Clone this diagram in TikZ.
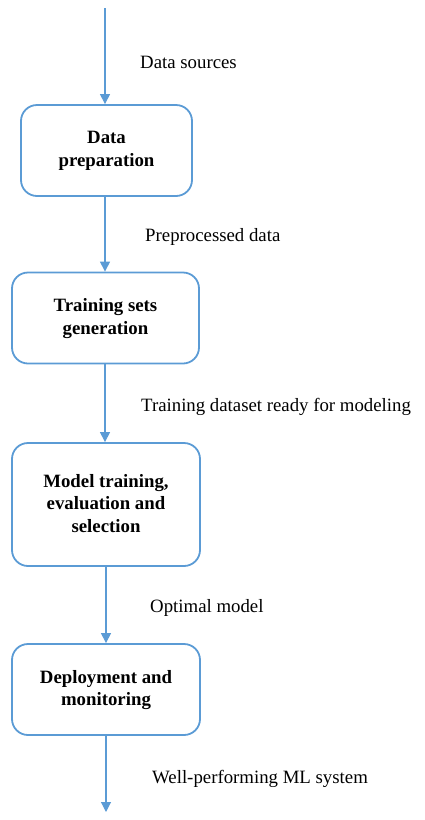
\documentclass[tikz,border=0pt]{standalone}
\usepackage{fontspec}
\setmainfont{Liberation Serif}
\usetikzlibrary{arrows.meta}
\definecolor{flowblue}{HTML}{5B9BD5}
\tikzset{
  stagebox/.style={draw=flowblue, line width=1.8pt, rounded corners=16pt, align=center,
    font=\fontsize{18.8}{22.5}\selectfont\bfseries, inner sep=0pt, text depth=3pt},
  flowarrow/.style={draw=flowblue, line width=1.1pt, -{Triangle[width=10pt,length=10pt]}},
  flowlabel/.style={anchor=base west, inner sep=0pt, font=\fontsize{18.8}{22.5}\selectfont}
}
\begin{document}
\begin{tikzpicture}[x=1pt,y=-1pt]
\useasboundingbox (0,0) rectangle (424,820);
\node[stagebox, minimum width=171pt, minimum height=91pt] (b1) at (106.5,150.5) {Data\\preparation};
\node[stagebox, minimum width=187pt, minimum height=91pt] (b2) at (105.5,318) {Training sets\\generation};
\node[stagebox, minimum width=188pt, minimum height=123pt] (b3) at (106,504.5) {Model training,\\evaluation and\\selection};
\node[stagebox, minimum width=188pt, minimum height=91pt] (b4) at (106,689.5) {Deployment and\\monitoring};
\coordinate (src) at (105,8);
\coordinate (out) at (106,812);
\draw[flowarrow] (src) -- (b1.north -| src);
\draw[flowarrow] (b1.south -| src) -- (b2.north -| src);
\draw[flowarrow] (b2.south -| src) -- (b3.north -| src);
\draw[flowarrow] (b3.south -| out) -- (b4.north -| out);
\draw[flowarrow] (b4.south -| out) -- (out);
\node[flowlabel] (l1) at (140,68) {Data sources};
\node[flowlabel] (l2) at (145,241.5) {Preprocessed data};
\node[flowlabel] (l3) at (141,411) {Training dataset ready for modeling};
\node[flowlabel] (l4) at (150,612) {Optimal model};
\node[flowlabel] (l5) at (152,783) {Well-performing ML system};
\end{tikzpicture}
\end{document}
